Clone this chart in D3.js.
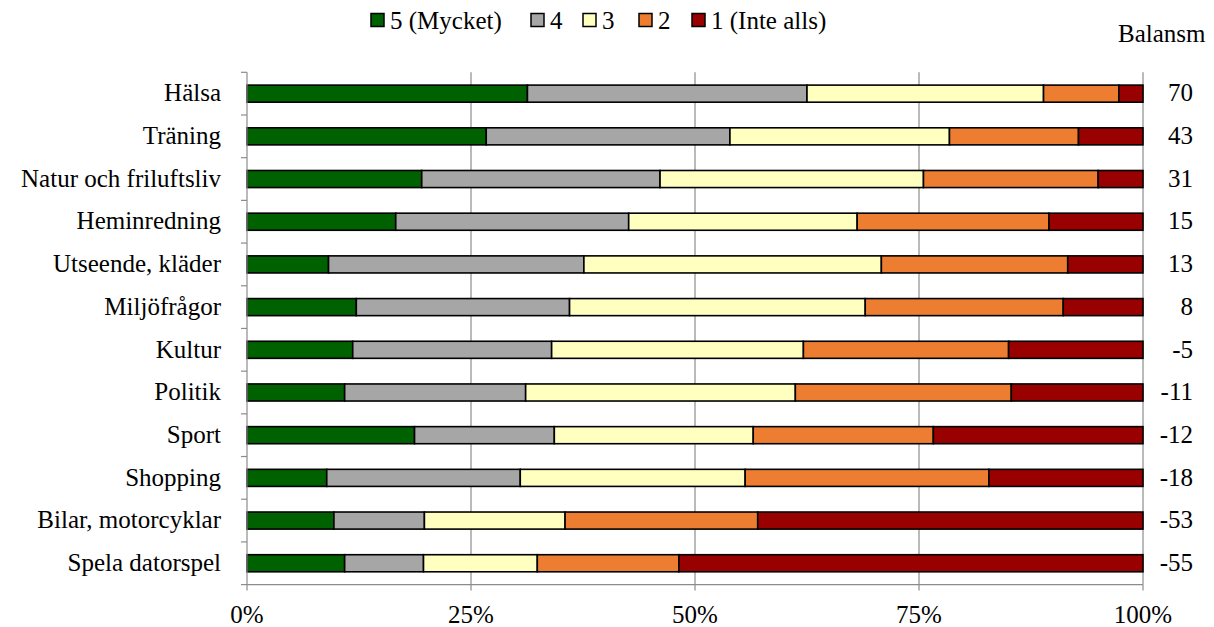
<!DOCTYPE html>
<html><head><meta charset="utf-8">
<script src="https://cdn.jsdelivr.net/npm/d3@7"></script>
<style>body{margin:0;background:#fff;} text{font-family:"Liberation Serif","Times New Roman",serif;fill:#000;}</style>
</head><body>
<svg id="chart" width="1214" height="627"></svg>
<script>
const categories = ["Hälsa","Träning","Natur och friluftsliv","Heminredning","Utseende, kläder","Miljöfrågor","Kultur","Politik","Sport","Shopping","Bilar, motorcyklar","Spela datorspel"];
const seriesNames = ["5 (Mycket)","4","3","2","1 (Inte alls)"];
const s5 = [31.3,26.7,19.5,16.6,9.1,12.2,11.8,10.9,18.7,8.9,9.7,10.9];
const s4 = [31.2,27.2,26.6,26.0,28.5,23.8,22.2,20.2,15.6,21.6,10.1,8.8];
const s3 = [26.4,24.5,29.4,25.5,33.2,33.0,28.1,30.1,22.2,25.1,15.7,12.7];
const s2 = [8.4,14.4,19.5,21.4,20.8,22.1,22.9,24.1,20.1,27.2,21.5,15.8];
const s1 = [2.7,7.2,5.0,10.5,8.4,8.9,15.0,14.7,23.4,17.2,43.0,51.8];
const balans = [70,43,31,15,13,8,-5,-11,-12,-18,-53,-55];
const xTicks = [0,25,50,75,100];
const colors = ["#006100","#A6A6A6","#FFFFC0","#ED7D31","#990000"];

const FS = 25;
const svg = d3.select("#chart");
const L=247, R=1143, T=72.3, B=584.6;
const x = d3.scaleLinear().domain([0,100]).range([L,R]);
const y = d3.scaleBand().domain(categories).range([T,B]).paddingInner(0.6).paddingOuter(0.3);
const yb = d3.scaleBand().domain(categories).range([T,B]);

// gridlines
svg.append("g").selectAll("line").data(xTicks.slice(1)).join("line")
  .attr("x1",d=>x(d)).attr("x2",d=>x(d)).attr("y1",T).attr("y2",B)
  .attr("stroke","#8c8c8c").attr("stroke-width",1.2);

// stacked data
const rows = categories.map((c,i)=>({cat:c,v:[s5[i],s4[i],s3[i],s2[i],s1[i]]}));
const keys=[0,1,2,3,4];
const stack = d3.stack().keys(keys).value((d,k)=>d.v[k]);
const stacked = stack(rows);
svg.append("g").selectAll("g").data(stacked).join("g")
  .attr("fill",(d,i)=>colors[i])
  .selectAll("rect").data(d=>d).join("rect")
  .attr("x",d=>x(d[0])).attr("width",d=>x(d[1])-x(d[0]))
  .attr("y",d=>y(d.data.cat)).attr("height",y.bandwidth())
  .attr("stroke","#000").attr("stroke-width",1.6);

// left axis
svg.append("line").attr("x1",L).attr("x2",L).attr("y1",T).attr("y2",B).attr("stroke","#8c8c8c").attr("stroke-width",1.2);
const bounds = categories.map(c=>yb(c)).concat([B]);
svg.append("g").selectAll("line").data(bounds).join("line")
  .attr("x1",L-6).attr("x2",L).attr("y1",d=>d).attr("y2",d=>d).attr("stroke","#8c8c8c").attr("stroke-width",1.2);
svg.append("g").selectAll("text").data(categories).join("text")
  .attr("x",221).attr("y",d=>y(d)+y.bandwidth()/2).attr("dy","0.31em")
  .attr("text-anchor","end").attr("font-size",FS).text(d=>d);

// bottom axis
svg.append("line").attr("x1",L).attr("x2",R).attr("y1",B).attr("y2",B).attr("stroke","#8c8c8c").attr("stroke-width",1.2);
svg.append("g").selectAll("line").data(xTicks).join("line")
  .attr("x1",d=>x(d)).attr("x2",d=>x(d)).attr("y1",B).attr("y2",B+6).attr("stroke","#8c8c8c").attr("stroke-width",1.2);
svg.append("g").selectAll("text").data(xTicks).join("text")
  .attr("x",d=>x(d)).attr("y",623).attr("text-anchor","middle").attr("font-size",FS).text(d=>d+"%");

// balans
svg.append("g").selectAll("text").data(balans).join("text")
  .attr("x",1193).attr("y",(d,i)=>y(categories[i])+y.bandwidth()/2).attr("dy","0.31em")
  .attr("text-anchor","end").attr("font-size",FS).text(d=>d);
svg.append("text").attr("x",1118).attr("y",42).attr("font-size",FS).text("Balansm");

// legend
const legX = [371,531,583,639,692];
const lg = svg.append("g").selectAll("g").data(seriesNames).join("g")
  .attr("transform",(d,i)=>`translate(${legX[i]},0)`);
lg.append("rect").attr("x",0).attr("y",13.5).attr("width",13).attr("height",13)
  .attr("fill",(d,i)=>colors[i]).attr("stroke","#000").attr("stroke-width",1.5);
lg.append("text").attr("x",19).attr("y",29).attr("font-size",FS).text(d=>d);
</script>
</body></html>
